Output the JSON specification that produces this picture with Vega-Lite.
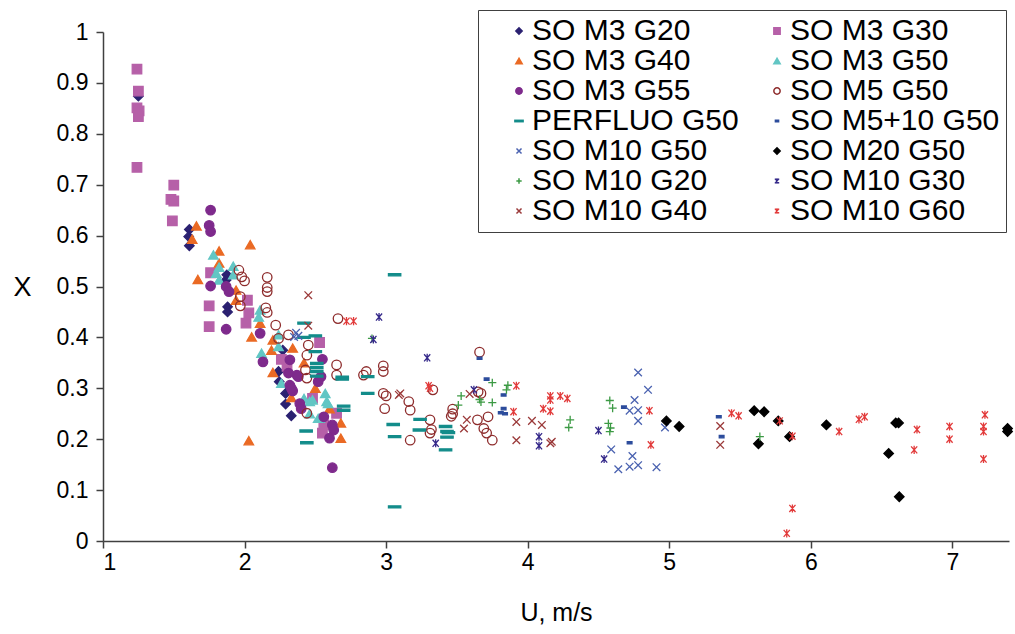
{
  "$schema": "https://vega.github.io/schema/vega-lite/v6.json",
  "width": 906,
  "height": 509,
  "autosize": "none",
  "padding": {"left": 103, "top": 32, "right": 6, "bottom": 93},
  "background": "white",
  "config": {
    "view": {"stroke": null},
    "font": "Liberation Sans",
    "axis": {"grid": false, "domainColor": "#404040", "tickColor": "#404040", "domainWidth": 1.5, "tickWidth": 1.5, "labelColor": "black", "titleColor": "black", "labelFont": "Liberation Sans", "titleFont": "Liberation Sans", "labelFontSize": 23, "titleFontSize": 25, "titleFontWeight": "normal"}
  },
  "data": {"values": [
    {"series":"SO M3 G20","U":1.25,"X":0.874},{"series":"SO M3 G20","U":1.61,"X":0.612},{"series":"SO M3 G20","U":1.605,"X":0.598},{"series":"SO M3 G20","U":1.61,"X":0.58},{"series":"SO M3 G20","U":1.875,"X":0.523},{"series":"SO M3 G20","U":1.87,"X":0.513},{"series":"SO M3 G20","U":1.88,"X":0.46},{"series":"SO M3 G20","U":1.88,"X":0.45},{"series":"SO M3 G20","U":2.27,"X":0.375},{"series":"SO M3 G20","U":2.24,"X":0.333},{"series":"SO M3 G20","U":2.245,"X":0.313},{"series":"SO M3 G20","U":2.29,"X":0.29},{"series":"SO M3 G20","U":2.29,"X":0.269},{"series":"SO M3 G20","U":2.33,"X":0.246},
    {"series":"SO M3 G30","U":1.24,"X":0.927},{"series":"SO M3 G30","U":1.25,"X":0.884},{"series":"SO M3 G30","U":1.24,"X":0.851},{"series":"SO M3 G30","U":1.255,"X":0.845},{"series":"SO M3 G30","U":1.25,"X":0.834},{"series":"SO M3 G30","U":1.24,"X":0.734},{"series":"SO M3 G30","U":1.5,"X":0.699},{"series":"SO M3 G30","U":1.48,"X":0.671},{"series":"SO M3 G30","U":1.5,"X":0.668},{"series":"SO M3 G30","U":1.49,"X":0.629},{"series":"SO M3 G30","U":1.76,"X":0.527},{"series":"SO M3 G30","U":1.75,"X":0.462},{"series":"SO M3 G30","U":1.75,"X":0.421},{"series":"SO M3 G30","U":2.02,"X":0.473},{"series":"SO M3 G30","U":2.03,"X":0.448},{"series":"SO M3 G30","U":2.01,"X":0.428},{"series":"SO M3 G30","U":2.26,"X":0.357},{"series":"SO M3 G30","U":2.3,"X":0.343},{"series":"SO M3 G30","U":2.53,"X":0.39},{"series":"SO M3 G30","U":2.48,"X":0.28},{"series":"SO M3 G30","U":2.65,"X":0.251},{"series":"SO M3 G30","U":2.56,"X":0.228},{"series":"SO M3 G30","U":2.55,"X":0.212},
    {"series":"SO M3 G40","U":1.66,"X":0.619},{"series":"SO M3 G40","U":1.63,"X":0.593},{"series":"SO M3 G40","U":2.04,"X":0.582},{"series":"SO M3 G40","U":1.82,"X":0.57},{"series":"SO M3 G40","U":1.82,"X":0.546},{"series":"SO M3 G40","U":1.67,"X":0.514},{"series":"SO M3 G40","U":1.94,"X":0.493},{"series":"SO M3 G40","U":1.94,"X":0.473},{"series":"SO M3 G40","U":2.05,"X":0.401},{"series":"SO M3 G40","U":2.11,"X":0.428},{"series":"SO M3 G40","U":2.2,"X":0.395},{"series":"SO M3 G40","U":2.19,"X":0.375},{"series":"SO M3 G40","U":2.34,"X":0.379},{"series":"SO M3 G40","U":2.2,"X":0.331},{"series":"SO M3 G40","U":2.33,"X":0.282},{"series":"SO M3 G40","U":2.03,"X":0.197},{"series":"SO M3 G40","U":2.68,"X":0.232},{"series":"SO M3 G40","U":2.68,"X":0.202},{"series":"SO M3 G40","U":2.5,"X":0.3},{"series":"SO M3 G40","U":2.42,"X":0.35},{"series":"SO M3 G40","U":2.6,"X":0.26},
    {"series":"SO M3 G50","U":1.78,"X":0.562},{"series":"SO M3 G50","U":1.82,"X":0.538},{"series":"SO M3 G50","U":1.8,"X":0.526},{"series":"SO M3 G50","U":1.82,"X":0.513},{"series":"SO M3 G50","U":1.92,"X":0.54},{"series":"SO M3 G50","U":1.92,"X":0.523},{"series":"SO M3 G50","U":2.11,"X":0.454},{"series":"SO M3 G50","U":2.1,"X":0.44},{"series":"SO M3 G50","U":2.24,"X":0.382},{"series":"SO M3 G50","U":2.12,"X":0.369},{"series":"SO M3 G50","U":2.24,"X":0.405},{"series":"SO M3 G50","U":2.26,"X":0.31},{"series":"SO M3 G50","U":2.46,"X":0.274},{"series":"SO M3 G50","U":2.48,"X":0.277},{"series":"SO M3 G50","U":2.57,"X":0.29},{"series":"SO M3 G50","U":2.59,"X":0.27},{"series":"SO M3 G50","U":2.53,"X":0.241},{"series":"SO M3 G50","U":2.46,"X":0.25},{"series":"SO M3 G50","U":2.58,"X":0.274},{"series":"SO M3 G50","U":2.52,"X":0.241},{"series":"SO M3 G50","U":2.42,"X":0.28},
    {"series":"SO M3 G55","U":1.76,"X":0.65},{"series":"SO M3 G55","U":1.75,"X":0.62},{"series":"SO M3 G55","U":1.76,"X":0.608},{"series":"SO M3 G55","U":1.76,"X":0.501},{"series":"SO M3 G55","U":1.87,"X":0.5},{"series":"SO M3 G55","U":1.89,"X":0.49},{"series":"SO M3 G55","U":1.87,"X":0.416},{"series":"SO M3 G55","U":2.11,"X":0.408},{"series":"SO M3 G55","U":2.13,"X":0.352},{"series":"SO M3 G55","U":2.32,"X":0.356},{"series":"SO M3 G55","U":2.38,"X":0.323},{"series":"SO M3 G55","U":2.32,"X":0.306},{"series":"SO M3 G55","U":2.34,"X":0.295},{"series":"SO M3 G55","U":2.39,"X":0.27},{"series":"SO M3 G55","U":2.4,"X":0.26},{"series":"SO M3 G55","U":2.52,"X":0.313},{"series":"SO M3 G55","U":2.54,"X":0.323},{"series":"SO M3 G55","U":2.56,"X":0.244},{"series":"SO M3 G55","U":2.62,"X":0.228},{"series":"SO M3 G55","U":2.63,"X":0.218},{"series":"SO M3 G55","U":2.6,"X":0.202},{"series":"SO M3 G55","U":2.62,"X":0.144},{"series":"SO M3 G55","U":2.55,"X":0.357},{"series":"SO M3 G55","U":2.37,"X":0.326},{"series":"SO M3 G55","U":2.33,"X":0.3},{"series":"SO M3 G55","U":2.31,"X":0.33},
    {"series":"SO M5 G50","U":1.96,"X":0.532},{"series":"SO M5 G50","U":1.98,"X":0.519},{"series":"SO M5 G50","U":2.0,"X":0.511},{"series":"SO M5 G50","U":2.16,"X":0.518},{"series":"SO M5 G50","U":2.16,"X":0.498},{"series":"SO M5 G50","U":2.16,"X":0.49},{"series":"SO M5 G50","U":1.97,"X":0.48},{"series":"SO M5 G50","U":1.97,"X":0.462},{"series":"SO M5 G50","U":2.15,"X":0.458},{"series":"SO M5 G50","U":2.16,"X":0.449},{"series":"SO M5 G50","U":2.22,"X":0.424},{"series":"SO M5 G50","U":2.24,"X":0.398},{"series":"SO M5 G50","U":2.31,"X":0.405},{"series":"SO M5 G50","U":2.45,"X":0.385},{"series":"SO M5 G50","U":2.44,"X":0.365},{"series":"SO M5 G50","U":2.43,"X":0.336},{"series":"SO M5 G50","U":2.44,"X":0.32},{"series":"SO M5 G50","U":2.44,"X":0.251},{"series":"SO M5 G50","U":2.65,"X":0.346},{"series":"SO M5 G50","U":2.65,"X":0.326},{"series":"SO M5 G50","U":2.66,"X":0.437},{"series":"SO M5 G50","U":2.84,"X":0.326},{"series":"SO M5 G50","U":2.86,"X":0.333},{"series":"SO M5 G50","U":2.98,"X":0.344},{"series":"SO M5 G50","U":2.98,"X":0.333},{"series":"SO M5 G50","U":2.98,"X":0.29},{"series":"SO M5 G50","U":3.0,"X":0.285},{"series":"SO M5 G50","U":2.99,"X":0.26},{"series":"SO M5 G50","U":3.16,"X":0.274},{"series":"SO M5 G50","U":3.17,"X":0.257},{"series":"SO M5 G50","U":3.17,"X":0.198},{"series":"SO M5 G50","U":3.33,"X":0.297},{"series":"SO M5 G50","U":3.31,"X":0.238},{"series":"SO M5 G50","U":3.32,"X":0.219},{"series":"SO M5 G50","U":3.31,"X":0.212},{"series":"SO M5 G50","U":3.47,"X":0.259},{"series":"SO M5 G50","U":3.47,"X":0.25},{"series":"SO M5 G50","U":3.46,"X":0.245},{"series":"SO M5 G50","U":3.66,"X":0.371},{"series":"SO M5 G50","U":3.65,"X":0.293},{"series":"SO M5 G50","U":3.67,"X":0.29},{"series":"SO M5 G50","U":3.645,"X":0.238},{"series":"SO M5 G50","U":3.72,"X":0.244},{"series":"SO M5 G50","U":3.69,"X":0.221},{"series":"SO M5 G50","U":3.71,"X":0.212},{"series":"SO M5 G50","U":3.75,"X":0.198},
    {"series":"PERFLUO G50","U":2.42,"X":0.428},{"series":"PERFLUO G50","U":2.5,"X":0.403},{"series":"PERFLUO G50","U":2.42,"X":0.4},{"series":"PERFLUO G50","U":2.5,"X":0.372},{"series":"PERFLUO G50","U":2.51,"X":0.349},{"series":"PERFLUO G50","U":2.51,"X":0.341},{"series":"PERFLUO G50","U":2.51,"X":0.333},{"series":"PERFLUO G50","U":2.51,"X":0.324},{"series":"PERFLUO G50","U":2.69,"X":0.322},{"series":"PERFLUO G50","U":2.69,"X":0.318},{"series":"PERFLUO G50","U":2.7,"X":0.265},{"series":"PERFLUO G50","U":2.7,"X":0.257},{"series":"PERFLUO G50","U":2.87,"X":0.323},{"series":"PERFLUO G50","U":2.87,"X":0.29},{"series":"PERFLUO G50","U":2.435,"X":0.216},{"series":"PERFLUO G50","U":2.44,"X":0.193},{"series":"PERFLUO G50","U":3.06,"X":0.523},{"series":"PERFLUO G50","U":3.05,"X":0.229},{"series":"PERFLUO G50","U":3.06,"X":0.205},{"series":"PERFLUO G50","U":3.06,"X":0.067},{"series":"PERFLUO G50","U":3.24,"X":0.239},{"series":"PERFLUO G50","U":3.235,"X":0.218},{"series":"PERFLUO G50","U":3.42,"X":0.225},{"series":"PERFLUO G50","U":3.43,"X":0.215},{"series":"PERFLUO G50","U":3.44,"X":0.213},{"series":"PERFLUO G50","U":3.43,"X":0.204},{"series":"PERFLUO G50","U":3.42,"X":0.179},
    {"series":"SO M5+10 G50","U":3.66,"X":0.359},{"series":"SO M5+10 G50","U":3.71,"X":0.318},{"series":"SO M5+10 G50","U":3.83,"X":0.287},{"series":"SO M5+10 G50","U":3.83,"X":0.26},{"series":"SO M5+10 G50","U":3.81,"X":0.252},{"series":"SO M5+10 G50","U":3.84,"X":0.25},{"series":"SO M5+10 G50","U":4.68,"X":0.263},{"series":"SO M5+10 G50","U":4.72,"X":0.193},{"series":"SO M5+10 G50","U":5.35,"X":0.244},{"series":"SO M5+10 G50","U":5.37,"X":0.205},
    {"series":"SO M10 G50","U":2.364,"X":0.409},{"series":"SO M10 G50","U":2.38,"X":0.403},{"series":"SO M10 G50","U":2.35,"X":0.401},{"series":"SO M10 G50","U":4.78,"X":0.331},{"series":"SO M10 G50","U":4.85,"X":0.297},{"series":"SO M10 G50","U":4.755,"X":0.277},{"series":"SO M10 G50","U":4.72,"X":0.256},{"series":"SO M10 G50","U":4.78,"X":0.257},{"series":"SO M10 G50","U":4.78,"X":0.236},{"series":"SO M10 G50","U":4.97,"X":0.223},{"series":"SO M10 G50","U":4.59,"X":0.18},{"series":"SO M10 G50","U":4.74,"X":0.167},{"series":"SO M10 G50","U":4.64,"X":0.141},{"series":"SO M10 G50","U":4.72,"X":0.146},{"series":"SO M10 G50","U":4.78,"X":0.149},{"series":"SO M10 G50","U":4.91,"X":0.145},
    {"series":"SO M20 G50","U":4.98,"X":0.236},{"series":"SO M20 G50","U":5.07,"X":0.225},{"series":"SO M20 G50","U":5.6,"X":0.256},{"series":"SO M20 G50","U":5.67,"X":0.254},{"series":"SO M20 G50","U":5.63,"X":0.191},{"series":"SO M20 G50","U":5.77,"X":0.236},{"series":"SO M20 G50","U":5.85,"X":0.205},{"series":"SO M20 G50","U":6.11,"X":0.228},{"series":"SO M20 G50","U":6.6,"X":0.232},{"series":"SO M20 G50","U":6.62,"X":0.232},{"series":"SO M20 G50","U":6.55,"X":0.172},{"series":"SO M20 G50","U":6.625,"X":0.087},{"series":"SO M20 G50","U":7.39,"X":0.221},{"series":"SO M20 G50","U":7.39,"X":0.215},
    {"series":"SO M10 G20","U":2.9,"X":0.398},{"series":"SO M10 G20","U":3.75,"X":0.311},{"series":"SO M10 G20","U":3.86,"X":0.306},{"series":"SO M10 G20","U":3.85,"X":0.297},{"series":"SO M10 G20","U":3.53,"X":0.285},{"series":"SO M10 G20","U":3.51,"X":0.267},{"series":"SO M10 G20","U":3.66,"X":0.278},{"series":"SO M10 G20","U":3.67,"X":0.273},{"series":"SO M10 G20","U":3.75,"X":0.272},{"series":"SO M10 G20","U":4.3,"X":0.238},{"series":"SO M10 G20","U":4.29,"X":0.223},{"series":"SO M10 G20","U":4.58,"X":0.276},{"series":"SO M10 G20","U":4.6,"X":0.261},{"series":"SO M10 G20","U":4.57,"X":0.231},{"series":"SO M10 G20","U":4.58,"X":0.215},{"series":"SO M10 G20","U":4.585,"X":0.222},{"series":"SO M10 G20","U":5.64,"X":0.205},
    {"series":"SO M10 G30","U":2.95,"X":0.44},{"series":"SO M10 G30","U":2.91,"X":0.396},{"series":"SO M10 G30","U":3.29,"X":0.36},{"series":"SO M10 G30","U":3.35,"X":0.192},{"series":"SO M10 G30","U":3.62,"X":0.297},{"series":"SO M10 G30","U":4.08,"X":0.205},{"series":"SO M10 G30","U":4.08,"X":0.187},{"series":"SO M10 G30","U":4.5,"X":0.217},{"series":"SO M10 G30","U":4.54,"X":0.161},
    {"series":"SO M10 G40","U":2.45,"X":0.483},{"series":"SO M10 G40","U":2.45,"X":0.423},{"series":"SO M10 G40","U":3.09,"X":0.287},{"series":"SO M10 G40","U":3.1,"X":0.29},{"series":"SO M10 G40","U":3.59,"X":0.289},{"series":"SO M10 G40","U":3.57,"X":0.238},{"series":"SO M10 G40","U":3.55,"X":0.221},{"series":"SO M10 G40","U":3.92,"X":0.234},{"series":"SO M10 G40","U":3.92,"X":0.198},{"series":"SO M10 G40","U":4.03,"X":0.236},{"series":"SO M10 G40","U":4.1,"X":0.228},{"series":"SO M10 G40","U":4.16,"X":0.192},{"series":"SO M10 G40","U":4.17,"X":0.195},{"series":"SO M10 G40","U":5.36,"X":0.226},{"series":"SO M10 G40","U":5.36,"X":0.189},
    {"series":"SO M10 G60","U":2.72,"X":0.432},{"series":"SO M10 G60","U":2.77,"X":0.432},{"series":"SO M10 G60","U":3.3,"X":0.305},{"series":"SO M10 G60","U":3.31,"X":0.3},{"series":"SO M10 G60","U":3.92,"X":0.305},{"series":"SO M10 G60","U":3.9,"X":0.254},{"series":"SO M10 G60","U":4.16,"X":0.285},{"series":"SO M10 G60","U":4.16,"X":0.277},{"series":"SO M10 G60","U":4.23,"X":0.285},{"series":"SO M10 G60","U":4.28,"X":0.28},{"series":"SO M10 G60","U":4.11,"X":0.26},{"series":"SO M10 G60","U":4.16,"X":0.255},{"series":"SO M10 G60","U":4.86,"X":0.256},{"series":"SO M10 G60","U":4.87,"X":0.189},{"series":"SO M10 G60","U":5.44,"X":0.251},{"series":"SO M10 G60","U":5.49,"X":0.246},{"series":"SO M10 G60","U":5.78,"X":0.236},{"series":"SO M10 G60","U":5.87,"X":0.206},{"series":"SO M10 G60","U":5.87,"X":0.064},{"series":"SO M10 G60","U":5.83,"X":0.015},{"series":"SO M10 G60","U":6.2,"X":0.215},{"series":"SO M10 G60","U":6.34,"X":0.239},{"series":"SO M10 G60","U":6.38,"X":0.244},{"series":"SO M10 G60","U":6.75,"X":0.219},{"series":"SO M10 G60","U":6.73,"X":0.179},{"series":"SO M10 G60","U":6.98,"X":0.225},{"series":"SO M10 G60","U":6.98,"X":0.2},{"series":"SO M10 G60","U":7.23,"X":0.248},{"series":"SO M10 G60","U":7.22,"X":0.225},{"series":"SO M10 G60","U":7.22,"X":0.215},{"series":"SO M10 G60","U":7.22,"X":0.161}
  ]},
  "mark": {"type": "point", "size": 90, "opacity": 1, "strokeWidth": 1.3},
  "encoding": {
    "x": {"field": "U", "type": "quantitative", "scale": {"domain": [1, 7.4], "nice": false, "zero": false},
      "axis": {"title": "U, m/s", "values": [1,2,3,4,5,6,7], "format": "d", "tickSize": 7, "labelPadding": 3, "titlePadding": 26}},
    "y": {"field": "X", "type": "quantitative", "scale": {"domain": [0, 1], "nice": false},
      "axis": {"title": "X", "values": [0,0.1,0.2,0.3,0.4,0.5,0.6,0.7,0.8,0.9,1], "format": ".1~f", "tickSize": 7, "labelPadding": 8, "titleAngle": 0, "titleX": -81, "titleY": 255, "titleAlign": "center", "titleBaseline": "middle", "titleFontSize": 27}},
    "shape": {"field": "series", "type": "nominal", "scale": {
      "domain": ["SO M3 G20","SO M3 G40","SO M3 G55","PERFLUO G50","SO M10 G50","SO M10 G20","SO M10 G40","SO M3 G30","SO M3 G50","SO M5 G50","SO M5+10 G50","SO M20 G50","SO M10 G30","SO M10 G60"],
      "range": ["diamond","triangle-up","circle","M-1.3,-0.22L1.3,-0.22L1.3,0.22L-1.3,0.22Z","M-0.8,-0.8L0.8,0.8M0.8,-0.8L-0.8,0.8","M-0.85,0L0.85,0M0,-0.85L0,0.85","M-0.8,-0.8L0.8,0.8M0.8,-0.8L-0.8,0.8","square","triangle-up","circle","M-0.5,-0.24L0.5,-0.24L0.5,0.24L-0.5,0.24Z","diamond","M-0.65,-0.75L0.65,0.75M0.65,-0.75L-0.65,0.75M0,-0.85L0,0.85","M-0.65,-0.75L0.65,0.75M0.65,-0.75L-0.65,0.75M0,-0.85L0,0.85"]},
      "legend": {"title": null, "orient": "none", "legendX": 375, "legendY": -22, "columns": 2, "strokeColor": "#404040", "padding": 6, "symbolOffset": 20, "symbolSize": 40, "labelFontSize": 30, "labelFont": "Liberation Sans", "labelColor": "black", "columnPadding": 3, "rowPadding": -0.3, "labelOffset": -2, "labelLimit": 400, "fillColor": "white"}},
    "fill": {"field": "series", "type": "nominal", "scale": {
      "domain": ["SO M3 G20","SO M3 G40","SO M3 G55","PERFLUO G50","SO M10 G50","SO M10 G20","SO M10 G40","SO M3 G30","SO M3 G50","SO M5 G50","SO M5+10 G50","SO M20 G50","SO M10 G30","SO M10 G60"],
      "range": ["#2B2171","#EA6A24","#7E2A8C","#138C8A","transparent","transparent","transparent","#B660A8","#62C6C4","transparent","#2C4C9C","#000000","transparent","transparent"]}},
    "stroke": {"field": "series", "type": "nominal", "scale": {
      "domain": ["SO M3 G20","SO M3 G40","SO M3 G55","PERFLUO G50","SO M10 G50","SO M10 G20","SO M10 G40","SO M3 G30","SO M3 G50","SO M5 G50","SO M5+10 G50","SO M20 G50","SO M10 G30","SO M10 G60"],
      "range": ["#2B2171","#EA6A24","#7E2A8C","#138C8A","#4A62B0","#3C9A44","#9B3A3A","#B660A8","#62C6C4","#8E2C2C","#2C4C9C","#000000","#35298A","#E23A3A"]}}
  }
}
